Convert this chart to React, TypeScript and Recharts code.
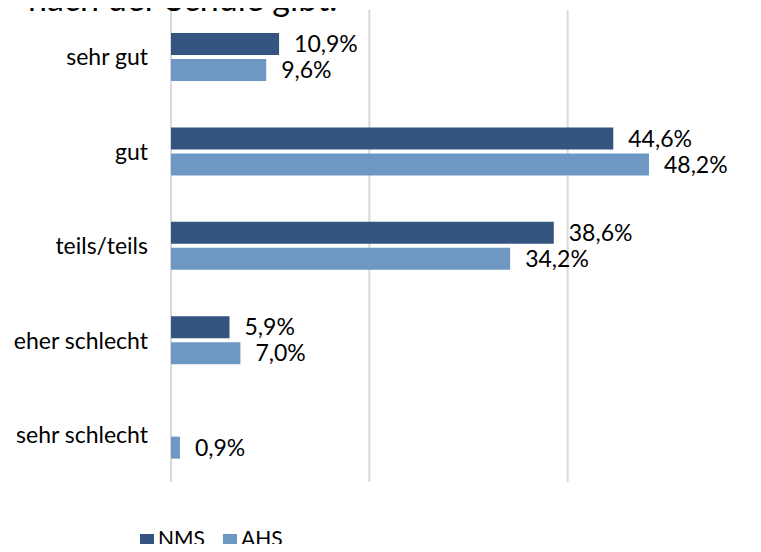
import { BarChart, Bar, XAxis, YAxis, CartesianGrid, Legend, LabelList } from 'recharts';

const CATEGORIES = ['sehr gut', 'gut', 'teils/teils', 'eher schlecht', 'sehr schlecht'];
const NMS = [10.9, 44.6, 38.6, 5.9, null];
const AHS = [9.6, 48.2, 34.2, 7.0, 0.9];
const X_TICKS = [0, 20, 40, 60];

const SERIES = [
  { key: 'NMS', color: '#34557F' },
  { key: 'AHS', color: '#6F97C4' },
];

const FONT = 'Lato, "Noto Sans", sans-serif';

const data = CATEGORIES.map((name, i) => ({ name, NMS: NMS[i], AHS: AHS[i] }));

const fmt = (v: any) => (v == null ? '' : `${Number(v).toFixed(1).replace('.', ',')}%`);

export default function App() {
  return (
    <div style={{ position: 'relative', width: 761, height: 552, margin: -8, overflow: 'hidden', background: '#fff', fontFamily: FONT }}>
      <BarChart
        width={790}
        height={552}
        data={data}
        layout="vertical"
        barSize={22}
        barGap={4}
        margin={{ top: 10, right: 24, left: 0, bottom: 46 }}
      >
        <CartesianGrid horizontal={false} stroke="#D9D9D9" strokeWidth={2} />
        <XAxis type="number" domain={[0, 60]} ticks={X_TICKS} hide />
        <YAxis
          type="category"
          dataKey="name"
          width={171}
          axisLine={false}
          tickLine={false}
          tickSize={0}
          tickMargin={23}
          tick={{ fontSize: 23, fill: '#000', fontFamily: FONT }}
        />
        <Legend
          verticalAlign="bottom"
          align="left"
          iconType="square"
          iconSize={14}
          itemSorter={(item: any) => SERIES.findIndex((s) => s.key === item.dataKey)}
          wrapperStyle={{ left: 140, top: 526, fontSize: 21, lineHeight: '24px', fontFamily: FONT }}
          formatter={(v: any) => <span style={{ color: '#000', paddingRight: 8 }}>{v}</span>}
        />
        {SERIES.map(({ key, color }) => (
          <Bar key={key} dataKey={key} fill={color} isAnimationActive={false}>
            <LabelList
              dataKey={key}
              position="right"
              offset={15}
              formatter={fmt}
              style={{ fontSize: 23, fill: '#000', fontFamily: FONT }}
            />
          </Bar>
        ))}
      </BarChart>
      <div style={{ position: 'absolute', zIndex: 2, left: 28, top: -22, fontSize: 34, lineHeight: '40px', color: '#000', whiteSpace: 'nowrap' }}>
        nach der Schule gibt.
      </div>
    </div>
  );
}
